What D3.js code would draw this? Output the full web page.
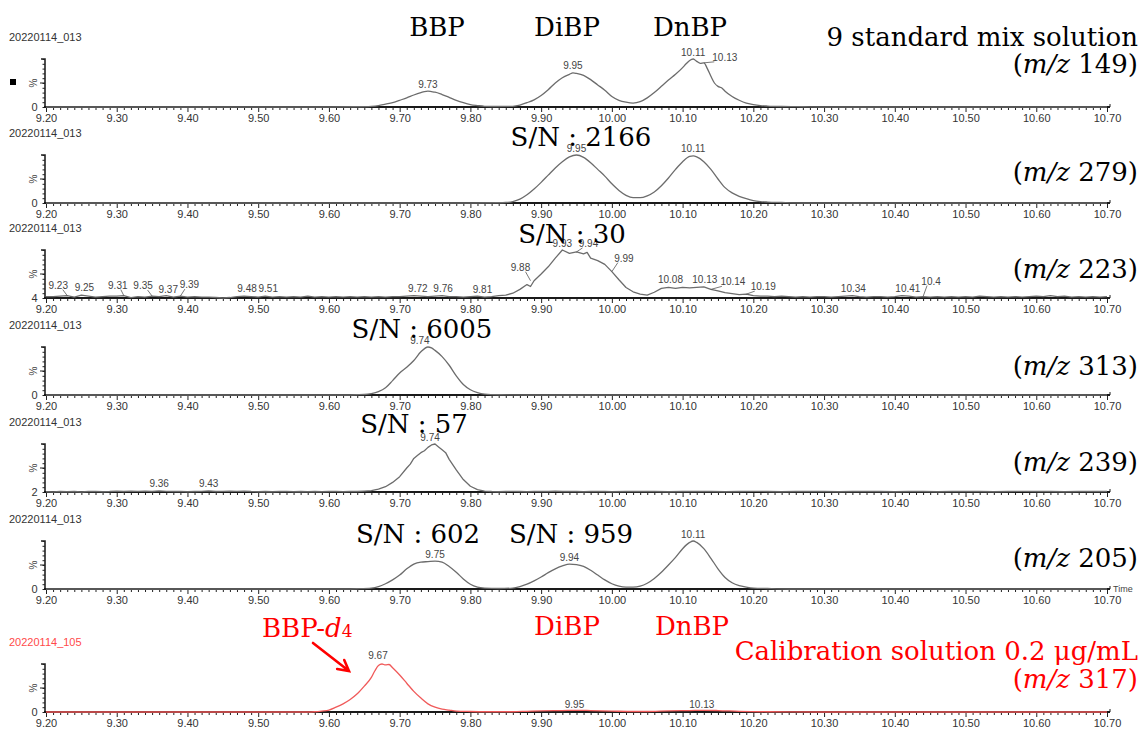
<!DOCTYPE html>
<html><head><meta charset="utf-8">
<script src="https://cdn.jsdelivr.net/npm/d3@7"></script>
<style>body{margin:0;background:#fff}svg{display:block}</style>
</head><body>
<svg id="chart" width="1141" height="731"></svg>
<script>
// ---------------- DATA ----------------
const xTickLabels = ["9.20","9.30","9.40","9.50","9.60","9.70","9.80","9.90","10.00","10.10","10.20","10.30","10.40","10.50","10.60","10.70"];
const fileNames = ["20220114_013","20220114_013","20220114_013","20220114_013","20220114_013","20220114_013","20220114_105"];
const mzValues = ["149","279","223","313","239","205","317"];
const yMinLabels = ["0","0","4","0","2","0","0"];

// [retention time (min), relative intensity %]
const trace149 = [[9.20,0],[9.60,0],[9.64,0.5],[9.66,1.5],[9.67,3],[9.68,6],[9.69,9],[9.70,14],[9.71,19],[9.72,25],[9.73,30],[9.735,32],[9.74,33],[9.745,32],[9.75,31],[9.76,26],[9.77,20],[9.78,14],[9.79,9],[9.80,5],[9.81,3],[9.82,1.5],[9.84,1],[9.86,1.5],[9.87,4],[9.88,9],[9.89,15],[9.90,24],[9.91,36],[9.92,50],[9.93,61],[9.94,68],[9.945,71],[9.95,70],[9.96,66],[9.97,57],[9.98,46],[9.99,35],[10.00,22],[10.01,14],[10.02,10],[10.03,8],[10.04,11],[10.05,19],[10.06,30],[10.07,43],[10.08,56],[10.09,68],[10.10,82],[10.105,90],[10.11,97],[10.115,100],[10.12,95],[10.125,91],[10.13,92],[10.135,80],[10.14,64],[10.145,50],[10.15,43],[10.155,40],[10.16,33],[10.17,22],[10.18,14],[10.19,8],[10.20,5],[10.21,3],[10.22,2],[10.24,1],[10.27,0.5],[10.30,0],[10.70,0]];
const trace279 = [[9.20,0],[9.80,0],[9.84,0.5],[9.85,1],[9.86,3],[9.87,8],[9.88,17],[9.89,29],[9.90,43],[9.91,58],[9.92,73],[9.93,86],[9.94,96],[9.95,100],[9.96,95],[9.97,84],[9.98,70],[9.99,56],[10.00,40],[10.01,26],[10.02,16],[10.03,11],[10.04,11],[10.05,15],[10.06,23],[10.07,36],[10.08,52],[10.09,70],[10.10,86],[10.11,97],[10.115,98],[10.12,96],[10.13,86],[10.14,70],[10.15,50],[10.16,32],[10.17,21],[10.18,14],[10.19,9],[10.20,5],[10.21,3],[10.22,2],[10.24,1],[10.27,0],[10.70,0]];
const trace223 = [[9.20,3],[9.21,3],[9.22,4],[9.23,5],[9.24,2],[9.25,6],[9.26,4],[9.27,2],[9.28,3],[9.29,4],[9.30,4],[9.31,5],[9.32,1],[9.33,3],[9.34,2],[9.35,4],[9.36,3],[9.37,5],[9.38,2],[9.39,4],[9.40,2],[9.41,3],[9.42,2],[9.43,2],[9.44,1],[9.45,0],[9.46,1],[9.47,3],[9.48,4],[9.49,3],[9.50,2],[9.51,4],[9.52,2],[9.53,3],[9.54,2],[9.55,3],[9.56,2],[9.57,4],[9.58,2],[9.59,3],[9.60,2],[9.61,3],[9.62,2],[9.63,3],[9.64,2],[9.65,3],[9.66,2],[9.67,3],[9.68,2],[9.69,3],[9.70,3],[9.71,4],[9.72,5],[9.73,4],[9.74,3],[9.75,4],[9.76,5],[9.77,3],[9.78,3],[9.79,2],[9.80,3],[9.81,4],[9.82,2],[9.83,3],[9.84,5],[9.85,6],[9.86,10],[9.87,18],[9.88,28],[9.885,24],[9.89,36],[9.90,50],[9.91,65],[9.92,83],[9.93,100],[9.94,93],[9.95,96],[9.96,92],[9.965,95],[9.97,83],[9.98,78],[9.99,70],[10.00,55],[10.01,38],[10.02,22],[10.03,13],[10.04,8],[10.05,6],[10.06,12],[10.07,20],[10.08,22],[10.09,20],[10.10,22],[10.11,21],[10.12,22],[10.13,23],[10.14,18],[10.15,15],[10.16,11],[10.17,9],[10.18,7],[10.19,8],[10.20,5],[10.21,4],[10.22,4],[10.23,3],[10.24,4],[10.25,3],[10.26,2],[10.27,3],[10.28,2],[10.29,3],[10.30,3],[10.31,2],[10.32,3],[10.33,4],[10.34,5],[10.35,3],[10.36,2],[10.37,3],[10.38,3],[10.39,2],[10.40,3],[10.41,5],[10.42,4],[10.43,2],[10.44,3],[10.45,2],[10.46,3],[10.47,2],[10.48,3],[10.49,2],[10.50,3],[10.51,2],[10.52,4],[10.53,3],[10.54,2],[10.55,3],[10.56,2],[10.57,3],[10.58,2],[10.59,3],[10.60,4],[10.61,3],[10.62,5],[10.63,3],[10.64,4],[10.65,2],[10.66,3],[10.67,2],[10.68,3],[10.69,2],[10.70,3]];
const trace313 = [[9.20,0],[9.62,0],[9.64,0.5],[9.65,1],[9.66,3],[9.67,7],[9.68,15],[9.69,30],[9.70,46],[9.71,58],[9.72,72],[9.73,90],[9.74,100],[9.745,98],[9.75,93],[9.76,80],[9.77,62],[9.78,40],[9.79,22],[9.80,11],[9.81,5],[9.82,2],[9.84,0.5],[9.88,0],[10.70,0]];
const trace239 = [[9.20,0.5],[9.21,0],[9.22,1],[9.23,0.5],[9.24,1],[9.25,0],[9.26,1],[9.27,1.5],[9.28,0.5],[9.29,1],[9.30,2],[9.31,1],[9.32,2],[9.33,1.5],[9.34,2],[9.35,1],[9.36,2.5],[9.37,1.5],[9.38,1],[9.39,1.5],[9.40,0.5],[9.41,1],[9.42,1.5],[9.43,2.5],[9.44,1],[9.45,1.5],[9.46,2],[9.47,1.5],[9.48,2],[9.49,1],[9.50,0.5],[9.51,1],[9.52,0.5],[9.53,1],[9.54,1.5],[9.55,0.5],[9.56,1],[9.57,0.5],[9.58,1],[9.59,0.5],[9.60,1],[9.61,1.5],[9.62,0.5],[9.63,1],[9.64,1],[9.65,2],[9.66,3],[9.67,6],[9.68,11],[9.69,20],[9.70,32],[9.71,50],[9.715,58],[9.72,70],[9.725,76],[9.73,82],[9.735,86],[9.74,93],[9.745,98],[9.75,100],[9.755,94],[9.76,88],[9.765,82],[9.77,68],[9.78,46],[9.79,26],[9.80,12],[9.81,5],[9.82,2],[9.83,1],[9.84,0.5],[9.85,1],[9.86,1.5],[9.87,1],[9.88,0.5],[9.89,1],[9.90,1.5],[9.91,1],[9.92,2],[9.93,1],[9.94,1.5],[9.95,1],[9.96,0.5],[9.97,1],[9.98,1.5],[9.99,1],[10.00,0.5],[10.02,1],[10.04,1.5],[10.06,1],[10.08,0.5],[10.10,1],[10.12,1.5],[10.14,1],[10.16,0.5],[10.18,1],[10.20,1.5],[10.22,1],[10.24,0.5],[10.26,1],[10.28,1.5],[10.30,1],[10.32,0.5],[10.34,1],[10.36,1.5],[10.38,1],[10.40,0.5],[10.42,1],[10.44,1],[10.46,0.5],[10.48,1],[10.50,1.5],[10.52,1],[10.54,0.5],[10.56,1],[10.58,1.5],[10.60,1],[10.62,1],[10.64,0.5],[10.66,1],[10.68,1.5],[10.70,1]];
const trace205 = [[9.20,0],[9.62,0],[9.64,0.5],[9.66,2],[9.67,5],[9.68,11],[9.69,19],[9.70,29],[9.71,42],[9.72,52],[9.73,56],[9.74,57],[9.75,58],[9.76,56],[9.77,47],[9.78,35],[9.79,21],[9.80,10],[9.81,4],[9.82,2],[9.84,1],[9.86,2],[9.87,5],[9.88,10],[9.89,17],[9.90,25],[9.91,34],[9.92,42],[9.93,48],[9.94,52],[9.95,51],[9.96,47],[9.97,39],[9.98,29],[9.99,19],[10.00,11],[10.01,6],[10.02,4],[10.03,4],[10.04,6],[10.05,12],[10.06,22],[10.07,35],[10.08,50],[10.09,66],[10.10,84],[10.11,97],[10.115,100],[10.12,97],[10.13,84],[10.14,64],[10.15,42],[10.16,24],[10.17,13],[10.18,7],[10.19,4],[10.20,2],[10.22,1],[10.25,0],[10.70,0]];
const trace317 = [[9.20,0],[9.57,0],[9.58,0.5],[9.59,2],[9.60,4],[9.61,10],[9.62,17],[9.63,26],[9.64,38],[9.65,54],[9.66,72],[9.665,86],[9.67,97],[9.675,100],[9.68,98],[9.685,99],[9.69,92],[9.70,77],[9.71,60],[9.72,43],[9.73,29],[9.74,17],[9.75,10],[9.76,6],[9.77,4],[9.78,2],[9.80,1],[9.82,0.5],[9.86,0.5],[9.88,1.5],[9.90,2.5],[9.93,3],[9.95,3.5],[9.97,3],[10.00,2],[10.03,1],[10.05,1],[10.08,2.5],[10.11,3],[10.13,3.5],[10.15,3],[10.18,1.5],[10.22,0.5],[10.30,0],[10.70,0]];

// peak labels: [label text, retention time of marked point]
const peaks149 = [["9.73",9.74],["9.95",9.945],["10.11",10.115],["10.13",10.13]];
const peaks279 = [["9.95",9.95],["10.11",10.115]];
const peaks223 = [["9.23",9.23],["9.25",9.25],["9.31",9.31],["9.35",9.35],["9.37",9.37],["9.39",9.39],["9.48",9.48],["9.51",9.51],["9.72",9.72],["9.76",9.76],["9.81",9.81],["9.88",9.885],["9.93",9.93],["9.94",9.95],["9.99",10.0],["10.08",10.08],["10.13",10.13],["10.14",10.14],["10.19",10.19],["10.34",10.34],["10.41",10.41],["10.4",10.44]];
const peaks313 = [["9.74",9.74]];
const peaks239 = [["9.36",9.36],["9.43",9.43],["9.74",9.75]];
const peaks205 = [["9.75",9.75],["9.94",9.94],["10.11",10.115]];
const peaks317 = [["9.67",9.675],["9.95",9.95],["10.13",10.13]];

// ---------------- LAYOUT ----------------
const svg = d3.select("#chart");
const x = d3.scaleLinear().domain([9.20, 10.70]).range([46, 1107]);
const baselines = [107, 203, 298, 395, 492, 589, 712];
const plotH = 48;
const sans = "'Liberation Sans', Arial, sans-serif";
const serif = "'DejaVu Serif', serif";
const grey = "#6c6c6c", red = "#f05a5a";

// label offsets [dx, dy, leader]
const labelOffsets = {
  "0|10.13":[21,-2,true],
  "2|9.23":[-9,-7,true],"2|9.25":[3,-4],"2|9.31":[-6,-7,true],"2|9.35":[-9,-7,true],"2|9.37":[2,-3],"2|9.39":[9,-8,true],
  "2|9.48":[3,-4],"2|9.51":[3,-4],"2|9.72":[4,-4],"2|9.76":[1,-4],"2|9.81":[5,-3],"2|9.88":[-10,-10,true],
  "2|9.93":[0,-3],"2|9.94":[12,-5,true],"2|9.99":[12,-10,true],"2|10.08":[2,-4],"2|10.13":[1,-4],
  "2|10.14":[22,-4,true],"2|10.19":[17,-4,true],"2|10.34":[1,-4],"2|10.41":[6,-4],"2|10.4":[8,-12,true],
  "3|9.74":[-8,-3],"4|9.74":[-5,-3],"6|9.67":[-4,-5],"6|9.95":[-2,-2],"6|10.13":[-2,-2]
};

const panels = [
  {data:trace149, peaks:peaks149, color:grey, tcol:"#333", curve:d3.curveMonotoneX},
  {data:trace279, peaks:peaks279, color:grey, tcol:"#333", curve:d3.curveMonotoneX},
  {data:trace223, peaks:peaks223, color:grey, tcol:"#333", curve:d3.curveLinear},
  {data:trace313, peaks:peaks313, color:grey, tcol:"#333", curve:d3.curveMonotoneX},
  {data:trace239, peaks:peaks239, color:grey, tcol:"#333", curve:d3.curveLinear},
  {data:trace205, peaks:peaks205, color:grey, tcol:"#333", curve:d3.curveMonotoneX},
  {data:trace317, peaks:peaks317, color:red, tcol:"#ff4a4a", curve:d3.curveMonotoneX}
];

const majorVals = xTickLabels.map(Number);
const minorVals = d3.range(921, 1070).map(v => v / 100).filter(v => Math.abs(v*10 - Math.round(v*10)) > 1e-6);

panels.forEach((p, i) => {
  const b = baselines[i];
  const y = d3.scaleLinear().domain([0, 100]).range([b, b - plotH]);
  const g = svg.append("g");

  // file title
  g.append("text").attr("x", 9).attr("y", b - 66).attr("font-family", sans).attr("font-size", 11)
    .attr("fill", p.tcol).text(fileNames[i]);

  // x axis: minor + major ticks
  const minor = g.append("g").attr("transform", `translate(0,${b})`)
    .call(d3.axisBottom(x).tickValues(minorVals).tickSize(3).tickFormat(""));
  minor.select(".domain").remove();
  minor.selectAll("line").attr("stroke", "#222");
  const major = g.append("g").attr("transform", `translate(0,${b})`)
    .call(d3.axisBottom(x).tickValues(majorVals).tickSize(5).tickPadding(2)
      .tickFormat((d, k) => xTickLabels[k]));
  major.select(".domain").remove();
  major.selectAll("line").attr("stroke", "#222");
  major.selectAll("text").attr("font-family", sans).attr("font-size", 11).attr("fill", "#333");

  // y axis
  const ya = g.append("g").attr("transform", `translate(45,0)`)
    .call(d3.axisLeft(y).tickValues(d3.range(0, 101, 10)).tickSize(2.5).tickFormat(""));
  ya.select(".domain").remove();
  ya.selectAll("line").attr("stroke", "#222");
  g.append("path").attr("d", `M41,${b - plotH}H45V${b}`).attr("fill", "none").attr("stroke", "#222").attr("stroke-width", 1.6);
  g.append("line").attr("x1", 40).attr("x2", 45).attr("y1", y(50)).attr("y2", y(50)).attr("stroke", "#222");
  g.append("text").attr("transform", `translate(37,${b - 24}) rotate(-90)`).attr("text-anchor", "middle")
    .attr("font-family", sans).attr("font-size", 10).attr("fill", "#444").text("%");
  g.append("text").attr("x", 34.5).attr("y", b + 4).attr("text-anchor", "middle")
    .attr("font-family", sans).attr("font-size", 11).attr("fill", "#333").text(yMinLabels[i]);

  // x axis line
  g.append("line").attr("x1", x(9.20) - 2).attr("x2", x(10.70) + 3).attr("y1", b).attr("y2", b)
    .attr("stroke", "#1a1a1a").attr("stroke-width", 2);
  g.append("line").attr("x1", x(10.70) + 3).attr("x2", x(10.70) + 3).attr("y1", b - 3).attr("y2", b)
    .attr("stroke", "#1a1a1a").attr("stroke-width", 1);

  // trace
  const line = d3.line().x(d => x(d[0])).y(d => y(d[1])).curve(p.curve);
  g.append("path").datum(p.data).attr("d", line).attr("fill", "none")
    .attr("stroke", p.color).attr("stroke-width", 1.3).attr("stroke-linejoin", "round");

  // peak labels
  p.peaks.forEach(([txt, t]) => {
    const near = p.data.filter(d => Math.abs(d[0] - t) < 0.006);
    const v = near.length ? d3.max(near, d => d[1]) : 0;
    const off = labelOffsets[i + "|" + txt] || [0, -3.5, false];
    const px = x(t), py = y(v);
    if (off[2]) {
      g.append("line").attr("x1", px).attr("y1", py).attr("x2", px + off[0] * 0.5).attr("y2", py + off[1] + 1)
        .attr("stroke", "#555").attr("stroke-width", 0.8);
    }
    g.append("text").attr("x", px + off[0]).attr("y", py + off[1]).attr("text-anchor", "middle")
      .attr("font-family", sans).attr("font-size", 10).attr("fill", "#444").text(txt);
  });
});

// marker in first panel
svg.append("rect").attr("x", 10).attr("y", 79).attr("width", 6).attr("height", 6).attr("fill", "#000");
// Time label
svg.append("text").attr("x", 1113).attr("y", 592).attr("font-family", sans).attr("font-size", 9)
  .attr("fill", "#444").text("Time");

// ---------------- ANNOTATIONS ----------------
function ann(txt, px, py, anchor, color) {
  return svg.append("text").attr("x", px).attr("y", py).attr("text-anchor", anchor)
    .attr("font-family", serif).attr("font-size", 26).attr("fill", color || "#000").text(txt);
}
function mz(num, py, color) {
  const t = svg.append("text").attr("x", 1138).attr("y", py).attr("text-anchor", "end")
    .attr("font-family", serif).attr("font-size", 26).attr("fill", color || "#000");
  t.append("tspan").text("(");
  t.append("tspan").attr("font-style", "italic").text("m/z");
  t.append("tspan").text(" " + num + ")");
}
ann("BBP", 437, 36, "middle");
ann("DiBP", 567, 36, "middle");
ann("DnBP", 690, 36, "middle");
ann("9 standard mix solution", 1138, 46, "end");
mz(mzValues[0], 73);
ann("S/N : 2166", 581, 146, "middle");
mz(mzValues[1], 181);
ann("S/N : 30", 572, 243, "middle");
mz(mzValues[2], 278);
ann("S/N : 6005", 422, 338, "middle");
mz(mzValues[3], 375);
ann("S/N : 57", 414, 433, "middle");
mz(mzValues[4], 471);
ann("S/N : 602", 418, 543, "middle");
ann("S/N : 959", 571, 543, "middle");
mz(mzValues[5], 567);

const RED = "#ff0000";
const bbpd = svg.append("text").attr("x", 262).attr("y", 637).attr("font-family", serif)
  .attr("font-size", 26).attr("fill", RED);
bbpd.append("tspan").text("BBP-");
bbpd.append("tspan").attr("font-style", "italic").text("d");
bbpd.append("tspan").attr("font-size", 17).text("4");
ann("DiBP", 567, 635, "middle", RED);
ann("DnBP", 692, 635, "middle", RED);
ann("Calibration solution 0.2 μg/mL", 1138, 660, "end", RED);
mz(mzValues[6], 688, RED);

// arrow
(function () {
  const x1 = 313, y1 = 643, x2 = 349, y2 = 671;
  const a = Math.atan2(y2 - y1, x2 - x1), L = 12, s = 0.5;
  const p1 = [x2 - L * Math.cos(a - s), y2 - L * Math.sin(a - s)];
  const p2 = [x2 - L * Math.cos(a + s), y2 - L * Math.sin(a + s)];
  svg.append("path").attr("d", `M${x1},${y1}L${x2},${y2}M${p1[0]},${p1[1]}L${x2},${y2}L${p2[0]},${p2[1]}`)
    .attr("fill", "none").attr("stroke", RED).attr("stroke-width", 2.6).attr("stroke-linecap", "round")
    .attr("stroke-linejoin", "miter");
})();
</script>
</body></html>
